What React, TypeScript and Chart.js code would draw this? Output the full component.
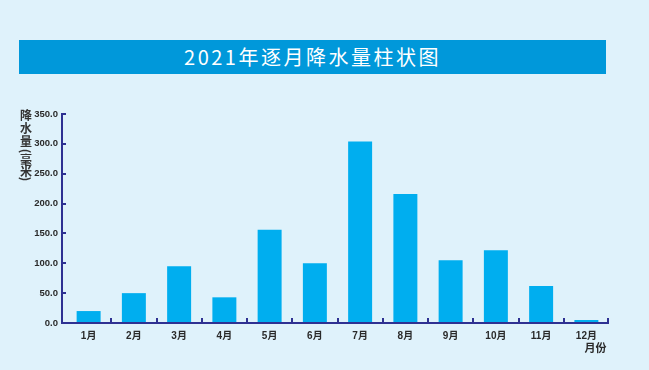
import React, { useEffect, useRef } from "react";
import { Chart, registerables } from "chart.js";
Chart.register(...registerables);

const months = ["1月", "2月", "3月", "4月", "5月", "6月", "7月", "8月", "9月", "10月", "11月", "12月"];
const rainfall = [20, 50, 95, 43, 156, 100, 304, 216, 105, 122, 62, 5];
const yMax = 350;
const yStep = 50;
const yTitleChars = [
  { ch: "降", y: 115, rot: false },
  { ch: "水", y: 128, rot: false },
  { ch: "量", y: 141, rot: false },
  { ch: "(", y: 151, rot: true },
  { ch: "毫", y: 159.5, rot: false },
  { ch: "米", y: 171, rot: false },
  { ch: ")", y: 179, rot: true },
];

const AXIS = "#2e3192";
const BG = "#dff2fb";
const GAP = 4;

const axesPlugin = {
  id: "axesPlugin",
  afterDraw(chart: any) {
    const { ctx, chartArea, scales } = chart;
    const x = scales.x;
    const y = scales.y;
    const ax = chartArea.left - GAP;
    ctx.save();
    ctx.strokeStyle = AXIS;
    ctx.lineWidth = 2;
    ctx.beginPath();
    ctx.moveTo(ax, chartArea.top - 1);
    ctx.lineTo(ax, chartArea.bottom);
    ctx.lineTo(chartArea.right, chartArea.bottom);
    ctx.stroke();
    for (let v = yStep; v <= yMax; v += yStep) {
      const py = Math.round(y.getPixelForValue(v));
      ctx.beginPath();
      ctx.moveTo(ax, py);
      ctx.lineTo(ax + 4, py);
      ctx.stroke();
    }
    const n = months.length;
    for (let i = 0; i < n; i++) {
      const px = i < n - 1 ? Math.round((x.getPixelForValue(i) + x.getPixelForValue(i + 1)) / 2) : Math.round(chartArea.right) - 1;
      ctx.beginPath();
      ctx.moveTo(px, chartArea.bottom);
      ctx.lineTo(px, chartArea.bottom - 5);
      ctx.stroke();
    }
    ctx.fillStyle = "#2a2a2a";
    ctx.font = "bold 11px 'Noto Sans CJK SC', sans-serif";
    ctx.textAlign = "center";
    ctx.textBaseline = "middle";
    ctx.fillText("月份", x.getPixelForValue(n - 1) + 9, chartArea.bottom + 25);
    ctx.restore();
  },
};

export default function App() {
  const ref = useRef<HTMLCanvasElement>(null);
  useEffect(() => {
    const chart = new Chart(ref.current!, {
      type: "bar",
      data: {
        labels: months,
        datasets: [
          {
            data: rainfall,
            backgroundColor: "#00aeef",
            categoryPercentage: 1,
            barPercentage: 0.53,
          },
        ],
      },
      options: {
        animation: false,
        responsive: false,
        maintainAspectRatio: false,
        layout: { padding: { left: 0, top: 114, right: 40, bottom: 0 } },
        plugins: { legend: { display: false }, tooltip: { enabled: false }, title: { display: false } },
        scales: {
          x: {
            grid: { display: false, drawTicks: false },
            border: { display: false },
            ticks: {
              color: "#2a2a2a",
              font: { family: "'Liberation Sans', 'Noto Sans CJK SC', sans-serif", size: 10, weight: "bold" },
              padding: 7,
              maxRotation: 0,
            },
            afterFit: (s: any) => {
              s.height = 47;
            },
          },
          y: {
            min: 0,
            max: yMax,
            grid: { display: false, drawTicks: false },
            border: { display: false },
            ticks: {
              stepSize: yStep,
              color: "#2a2a2a",
              font: { family: "'Liberation Sans', sans-serif", size: 9.5, weight: "bold" },
              padding: 8,
              callback: (v: any) => Number(v).toFixed(1),
            },
            afterFit: (s: any) => {
              s.width = 66;
            },
          },
        },
      },
      plugins: [axesPlugin],
    });
    return () => chart.destroy();
  }, []);

  return (
    <div style={{ position: "fixed", left: 0, top: 0, width: 649, height: 370, background: BG, overflow: "hidden" }}>
      <div
        style={{
          position: "absolute",
          left: 19,
          top: 40,
          width: 587,
          height: 34,
          background: "#0098da",
          color: "#ffffff",
          fontFamily: "'Noto Sans CJK SC', sans-serif",
          fontSize: 20,
          letterSpacing: 2.5,
          lineHeight: "34px",
          textAlign: "center",
        }}
      >
        2021年逐月降水量柱状图
      </div>
      <canvas ref={ref} width={649} height={370} style={{ position: "absolute", left: 0, top: 0 }} />
      {yTitleChars.map((c, i) => (
        <div
          key={i}
          style={{
            position: "absolute",
            left: 19,
            top: c.y - 7,
            width: 14,
            height: 14,
            lineHeight: "14px",
            textAlign: "center",
            fontFamily: "'Noto Sans CJK SC', sans-serif",
            fontSize: 12,
            fontWeight: "bold",
            color: "#333333",
            transform: c.rot ? "rotate(90deg)" : undefined,
          }}
        >
          {c.ch}
        </div>
      ))}
    </div>
  );
}
